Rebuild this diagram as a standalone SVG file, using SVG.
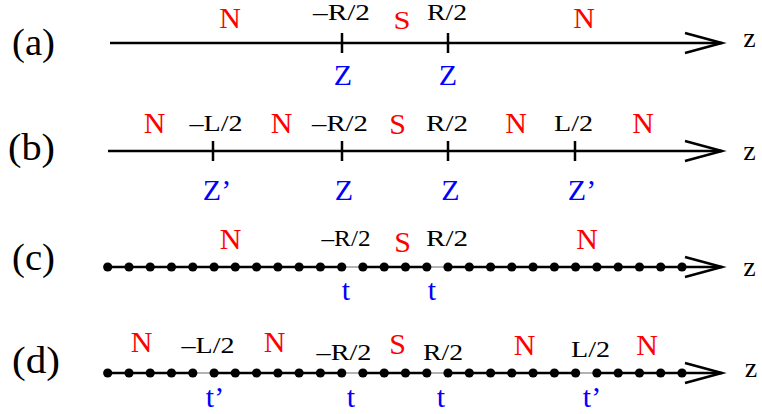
<svg xmlns="http://www.w3.org/2000/svg" xmlns:xlink="http://www.w3.org/1999/xlink" width="762" height="414" viewBox="0 0 762 414">
<style>
text{font-family:"Liberation Serif","Times New Roman",serif;}
.lab{font-size:37px;fill:#000;}
.pos{font-size:24px;fill:#000;text-anchor:middle;}
.red{font-size:30px;fill:#ff0000;text-anchor:middle;}
.blue{font-size:30px;fill:#0000ff;text-anchor:middle;}
.z{font-size:28px;fill:#000;text-anchor:middle;}
.ax{stroke:#000;stroke-width:2.5;fill:none;}
.thin{stroke:#666;stroke-width:1;fill:none;}
.tick{stroke:#000;stroke-width:2.5;}
.head{stroke:#000;stroke-width:2.5;fill:none;stroke-linejoin:miter;}
</style>
<defs>
<circle id="dot" r="4.6" fill="#000"/>
<path id="arr" class="head" d="M-37,-10 L0,0 L-37,10"/>
</defs>

<g id="connectors">
  <!-- row a -->
  <line class="ax" x1="110" y1="43" x2="722" y2="43"/>
  <use xlink:href="#arr" x="722" y="43"/>
  <line class="tick" x1="342" y1="33" x2="342" y2="53"/>
  <line class="tick" x1="448" y1="33" x2="448" y2="53"/>
  <!-- row b -->
  <line class="ax" x1="108" y1="151" x2="722" y2="151"/>
  <use xlink:href="#arr" x="722" y="151"/>
  <line class="tick" x1="213" y1="141" x2="213" y2="161"/>
  <line class="tick" x1="342" y1="141" x2="342" y2="161"/>
  <line class="tick" x1="448" y1="141" x2="448" y2="161"/>
  <line class="tick" x1="575" y1="141" x2="575" y2="161"/>
  <!-- row c -->
  <line class="thin" x1="107.7" y1="267" x2="722" y2="267"/>
  <polyline class="ax" points="107.7,267 341.7,267"/>
  <polyline class="ax" points="362.9,267 426.8,267"/>
  <polyline class="ax" points="448,267 722,267"/>
  <use xlink:href="#arr" x="722" y="267"/>
  <!-- row d -->
  <line class="thin" x1="107.7" y1="373" x2="722" y2="373"/>
  <polyline class="ax" points="107.7,373 192.8,373"/>
  <polyline class="ax" points="214.1,373 341.7,373"/>
  <polyline class="ax" points="362.9,373 426.8,373"/>
  <polyline class="ax" points="448,373 575.6,373"/>
  <polyline class="ax" points="596.9,373 722,373"/>
  <use xlink:href="#arr" x="722" y="373"/>
</g>

<g id="dots-c">
  <use xlink:href="#dot" x="107.7" y="267"/><use xlink:href="#dot" x="129.0" y="267"/><use xlink:href="#dot" x="150.2" y="267"/><use xlink:href="#dot" x="171.5" y="267"/>
  <use xlink:href="#dot" x="192.8" y="267"/><use xlink:href="#dot" x="214.1" y="267"/><use xlink:href="#dot" x="235.3" y="267"/><use xlink:href="#dot" x="256.6" y="267"/>
  <use xlink:href="#dot" x="277.9" y="267"/><use xlink:href="#dot" x="299.1" y="267"/><use xlink:href="#dot" x="320.4" y="267"/><use xlink:href="#dot" x="341.7" y="267"/>
  <use xlink:href="#dot" x="362.9" y="267"/><use xlink:href="#dot" x="384.2" y="267"/><use xlink:href="#dot" x="405.5" y="267"/><use xlink:href="#dot" x="426.8" y="267"/>
  <use xlink:href="#dot" x="448.0" y="267"/><use xlink:href="#dot" x="469.3" y="267"/><use xlink:href="#dot" x="490.6" y="267"/><use xlink:href="#dot" x="511.8" y="267"/>
  <use xlink:href="#dot" x="533.1" y="267"/><use xlink:href="#dot" x="554.4" y="267"/><use xlink:href="#dot" x="575.6" y="267"/><use xlink:href="#dot" x="596.9" y="267"/>
  <use xlink:href="#dot" x="618.2" y="267"/><use xlink:href="#dot" x="639.5" y="267"/><use xlink:href="#dot" x="660.7" y="267"/><use xlink:href="#dot" x="682.0" y="267"/>
</g>
<g id="dots-d">
  <use xlink:href="#dot" x="107.7" y="373"/><use xlink:href="#dot" x="129.0" y="373"/><use xlink:href="#dot" x="150.2" y="373"/><use xlink:href="#dot" x="171.5" y="373"/>
  <use xlink:href="#dot" x="192.8" y="373"/><use xlink:href="#dot" x="214.1" y="373"/><use xlink:href="#dot" x="235.3" y="373"/><use xlink:href="#dot" x="256.6" y="373"/>
  <use xlink:href="#dot" x="277.9" y="373"/><use xlink:href="#dot" x="299.1" y="373"/><use xlink:href="#dot" x="320.4" y="373"/><use xlink:href="#dot" x="341.7" y="373"/>
  <use xlink:href="#dot" x="362.9" y="373"/><use xlink:href="#dot" x="384.2" y="373"/><use xlink:href="#dot" x="405.5" y="373"/><use xlink:href="#dot" x="426.8" y="373"/>
  <use xlink:href="#dot" x="448.0" y="373"/><use xlink:href="#dot" x="469.3" y="373"/><use xlink:href="#dot" x="490.6" y="373"/><use xlink:href="#dot" x="511.8" y="373"/>
  <use xlink:href="#dot" x="533.1" y="373"/><use xlink:href="#dot" x="554.4" y="373"/><use xlink:href="#dot" x="575.6" y="373"/><use xlink:href="#dot" x="596.9" y="373"/>
  <use xlink:href="#dot" x="618.2" y="373"/><use xlink:href="#dot" x="639.5" y="373"/><use xlink:href="#dot" x="660.7" y="373"/><use xlink:href="#dot" x="682.0" y="373"/>
</g>

<g id="row-a">
  <text class="lab" x="12" y="55" textLength="43" lengthAdjust="spacingAndGlyphs">(a)</text>
  <text class="red" x="230" y="28">N</text>
  <text class="pos" x="341.5" y="20" textLength="57" lengthAdjust="spacingAndGlyphs">–R/2</text>
  <text class="red" x="402" y="29" style="font-size:25px" textLength="17" lengthAdjust="spacingAndGlyphs">S</text>
  <text class="pos" x="447" y="20" textLength="40" lengthAdjust="spacingAndGlyphs">R/2</text>
  <text class="red" x="584" y="28">N</text>
  <text class="z" x="749.5" y="47">z</text>
  <text class="blue" x="343" y="85">Z</text>
  <text class="blue" x="448" y="85">Z</text>
</g>

<g id="row-b">
  <text class="lab" x="8" y="160" textLength="47" lengthAdjust="spacingAndGlyphs">(b)</text>
  <text class="red" x="154.5" y="133">N</text>
  <text class="pos" x="216" y="131" textLength="53" lengthAdjust="spacingAndGlyphs">–L/2</text>
  <text class="red" x="281.5" y="133">N</text>
  <text class="pos" x="340" y="131" textLength="56" lengthAdjust="spacingAndGlyphs">–R/2</text>
  <text class="red" x="397.5" y="134">S</text>
  <text class="pos" x="447" y="131" textLength="42" lengthAdjust="spacingAndGlyphs">R/2</text>
  <text class="red" x="516" y="133">N</text>
  <text class="pos" x="573.5" y="131" textLength="39" lengthAdjust="spacingAndGlyphs">L/2</text>
  <text class="red" x="643" y="133">N</text>
  <text class="z" x="749.5" y="160">z</text>
  <text class="blue" x="217" y="200">Z’</text>
  <text class="blue" x="344" y="200">Z</text>
  <text class="blue" x="450.5" y="200">Z</text>
  <text class="blue" x="582" y="200">Z’</text>
</g>

<g id="row-c">
  <text class="lab" x="12" y="270" textLength="43" lengthAdjust="spacingAndGlyphs">(c)</text>
  <text class="red" x="230.5" y="249">N</text>
  <text class="pos" x="346" y="246" textLength="49" lengthAdjust="spacingAndGlyphs">–R/2</text>
  <text class="red" x="402.5" y="252">S</text>
  <text class="pos" x="447" y="246" textLength="42" lengthAdjust="spacingAndGlyphs">R/2</text>
  <text class="red" x="587" y="249">N</text>
  <text class="z" x="749.5" y="276">z</text>
  <text class="blue" x="346" y="300">t</text>
  <text class="blue" x="432" y="300">t</text>
</g>

<g id="row-d">
  <text class="lab" x="12" y="373" textLength="48" lengthAdjust="spacingAndGlyphs">(d)</text>
  <text class="red" x="141.5" y="352">N</text>
  <text class="pos" x="208" y="353" textLength="53" lengthAdjust="spacingAndGlyphs">–L/2</text>
  <text class="red" x="274.5" y="352">N</text>
  <text class="pos" x="344" y="360" textLength="55" lengthAdjust="spacingAndGlyphs">–R/2</text>
  <text class="red" x="397.5" y="354">S</text>
  <text class="pos" x="443" y="360" textLength="40" lengthAdjust="spacingAndGlyphs">R/2</text>
  <text class="red" x="524.5" y="355">N</text>
  <text class="pos" x="590.5" y="357" textLength="39" lengthAdjust="spacingAndGlyphs">L/2</text>
  <text class="red" x="647" y="355">N</text>
  <text class="z" x="751" y="377">z</text>
  <text class="blue" x="215" y="407">t’</text>
  <text class="blue" x="351" y="407">t</text>
  <text class="blue" x="441" y="407">t</text>
  <text class="blue" x="592" y="407">t’</text>
</g>
</svg>
